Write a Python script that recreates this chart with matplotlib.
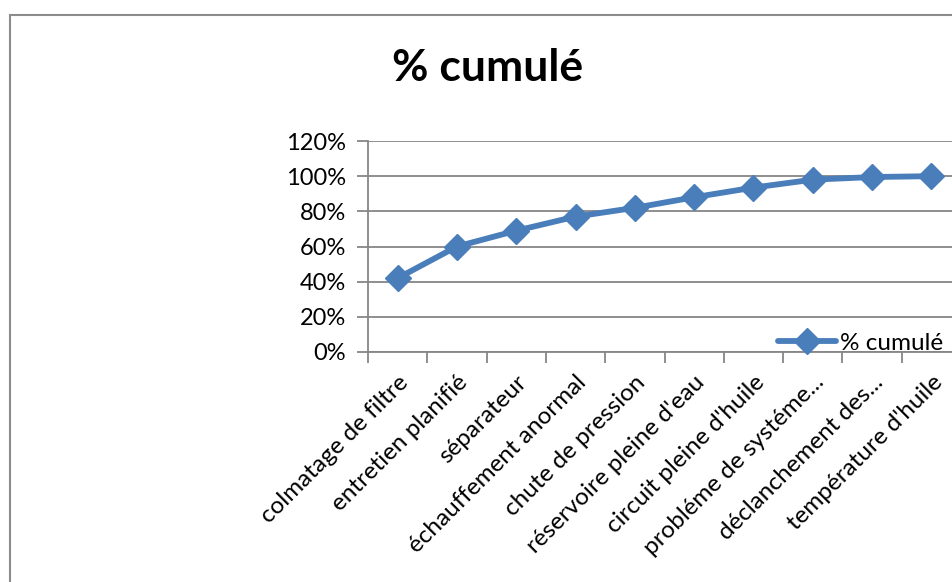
import matplotlib.pyplot as plt
from matplotlib.patches import Rectangle
from matplotlib.ticker import FixedLocator, PercentFormatter

# Data
categories = ['colmatage de filtre', 'entretien planifié', 'séparateur',
              'échauffement anormal', 'chute de pression', "réservoire pleine d'eau",
              "circuit pleine d'huile", 'probléme de systéme...', 'déclanchement des...',
              "température d'huile"]
cumul = [0.42, 0.60, 0.69, 0.77, 0.82, 0.88, 0.935, 0.98, 0.995, 1.0]
y_ticks = [0, 0.2, 0.4, 0.6, 0.8, 1.0, 1.2]

plt.rcParams['font.family'] = ['Lato', 'DejaVu Sans']

W, H = 952, 582
fig = plt.figure(figsize=(W / 100, H / 100), dpi=100)

# outer chart border (cropped on right and bottom)
fig.patches.append(Rectangle((10 / W, -0.1), 1.2, 1 - 15 / H + 0.1, transform=fig.transFigure,
                             fill=False, edgecolor='#8c8c8c', linewidth=1.5))

ax = fig.add_axes([368 / W, 1 - 352 / H, (961 - 368) / W, (352 - 141) / H])
blue = '#4a7ebb'
x = list(range(len(categories)))
ax.plot(x, cumul, color=blue, linewidth=4.2, marker='D', markersize=13, label='% cumulé',
        solid_capstyle='round', clip_on=False)

ax.set_xlim(-0.5, len(categories) - 0.5)
ax.set_ylim(0, 1.2)
ax.set_yticks(y_ticks)
ax.yaxis.set_major_formatter(PercentFormatter(1.0, decimals=0))
ax.grid(axis='y', color='#868686', linewidth=1.3)
ax.set_axisbelow(True)

ax.xaxis.set_major_locator(FixedLocator([i - 0.5 for i in range(len(categories) + 1)]))
ax.set_xticklabels([])
ax.set_xticks(x, minor=True)
ax.set_xticklabels(categories, minor=True, rotation=45, ha='right', rotation_mode='anchor')
ax.tick_params(axis='x', which='minor', length=0, pad=14, labelsize=17.5)
ax.tick_params(axis='x', which='major', length=8, color='#868686', width=1.3)
ax.tick_params(axis='y', length=8, color='#868686', width=1.3, labelsize=17, pad=8)

for s in ['top', 'right']:
    ax.spines[s].set_visible(False)
for s in ['left', 'bottom']:
    ax.spines[s].set_color('#868686')
    ax.spines[s].set_linewidth(1.3)

fig.text(488 / W, 1 - 68 / H, '% cumulé', ha='center', va='center', fontsize=32, fontweight='bold')

fig.legend(loc='center left', bbox_to_anchor=(778 / W, 1 - 343 / H), frameon=False,
           fontsize=17.5, handlelength=2.4, handletextpad=0.15, borderpad=0, borderaxespad=0)

fig.savefig('out.png', dpi=100)
